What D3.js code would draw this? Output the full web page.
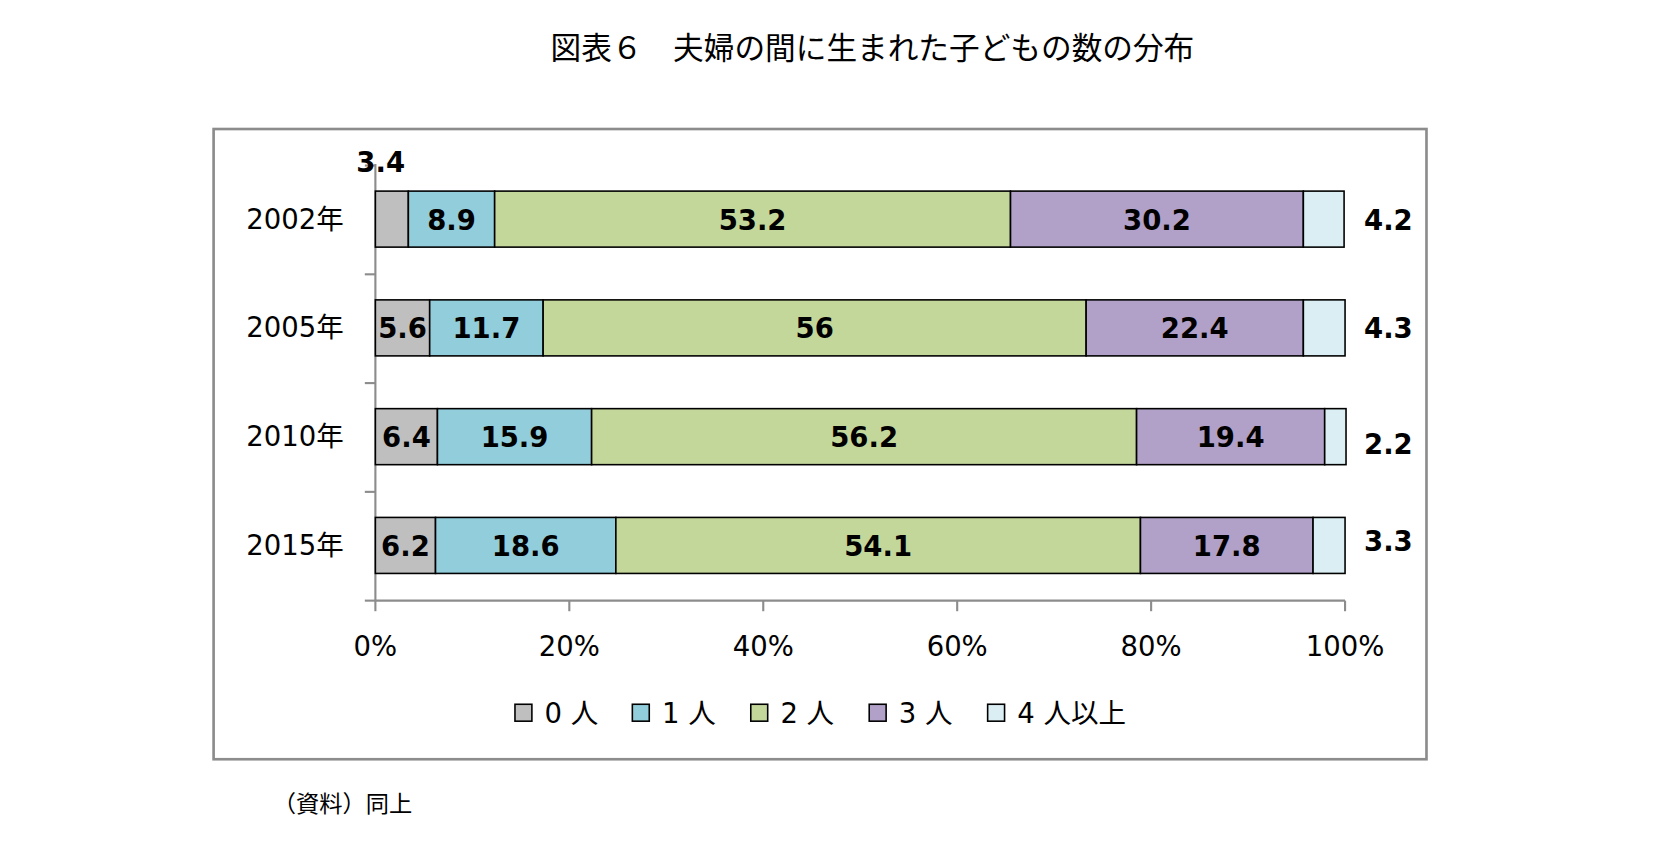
<!DOCTYPE html>
<html><head><meta charset="utf-8">
<script src="https://cdn.jsdelivr.net/npm/d3@7"></script>
<style>body{margin:0;background:#fff;}</style>
</head><body><div id="chart"></div>
<script>
const years = ["2002年", "2005年", "2010年", "2015年"];
const groups = ["0人", "1人", "2人", "3人", "4人以上"];
const legendLabels = ["0 人", "1 人", "2 人", "3 人", "4 人以上"];
const v0 = [3.4, 5.6, 6.4, 6.2];
const v1 = [8.9, 11.7, 15.9, 18.6];
const v2 = [53.2, 56, 56.2, 54.1];
const v3 = [30.2, 22.4, 19.4, 17.8];
const v4 = [4.2, 4.3, 2.2, 3.3];
const ticks = [0, 20, 40, 60, 80, 100];
const colors = ["#bfbfbf", "#92cddc", "#c4d79b", "#b1a0c7", "#daeef3"];

const font = "'DejaVu Sans', 'Noto Sans CJK JP', sans-serif";
const jp = "'Noto Sans CJK JP', sans-serif";
// layout measured on a 1567-wide copy; viewBox scales it to the window
const svg = d3.select("#chart").append("svg").attr("width", 1657).attr("height", 841)
  .attr("viewBox", "0 0 1567 795.3");

svg.append("text").attr("x", 825).attr("y", 56).attr("text-anchor", "middle")
  .attr("font-family", jp).attr("font-size", 29).text("図表６　夫婦の間に生まれた子どもの数の分布");

svg.append("rect").attr("x", 202).attr("y", 122).attr("width", 1147).attr("height", 596)
  .attr("fill", "none").attr("stroke", "#8c8c8c").attr("stroke-width", 2.5);

const x = d3.scaleLinear().domain([0, 100]).range([355, 1272]);
const y = d3.scaleBand().domain(years).range([155, 568]).paddingInner(0.485).paddingOuter(0.25);

const table = years.map((yr, i) => ({yr, vals: [v0[i], v1[i], v2[i], v3[i], v4[i]]}));

// axes
svg.append("line").attr("x1", 355).attr("x2", 355).attr("y1", 155).attr("y2", 568).attr("stroke", "#8c8c8c").attr("stroke-width", 2);
svg.append("line").attr("x1", 355).attr("x2", 1272).attr("y1", 568).attr("y2", 568).attr("stroke", "#8c8c8c").attr("stroke-width", 2);
const step = y.step();
[0, 1, 2, 3, 4].forEach(k => {
  const yy = 568 - k * step;
  svg.append("line").attr("x1", 345).attr("x2", 355).attr("y1", yy).attr("y2", yy).attr("stroke", "#8c8c8c").attr("stroke-width", 2);
});
ticks.forEach(t => {
  svg.append("line").attr("x1", x(t)).attr("x2", x(t)).attr("y1", 568).attr("y2", 578).attr("stroke", "#8c8c8c").attr("stroke-width", 2);
  svg.append("text").attr("x", x(t)).attr("y", 620).attr("text-anchor", "middle")
    .attr("font-family", font).attr("font-size", 26).text(t + "%");
});

table.forEach((row, i) => {
  const cy = y(row.yr) + y.bandwidth() / 2;
  svg.append("text").attr("x", 325).attr("y", cy + 9).attr("text-anchor", "end")
    .attr("font-family", font).attr("font-size", 26).text(row.yr);
  let acc = 0;
  row.vals.forEach((v, j) => {
    const x0 = x(acc);
    acc += v;
    svg.append("rect").attr("x", x0).attr("y", y(row.yr)).attr("width", x(acc) - x0)
      .attr("height", y.bandwidth()).attr("fill", colors[j]).attr("stroke", "#000").attr("stroke-width", 1.5);
    const lab = svg.append("text").attr("font-family", font).attr("font-weight", "bold")
      .attr("font-size", 26).attr("text-anchor", "middle").text(v);
    if (j === 4) {
      lab.attr("x", 1313).attr("y", cy + 10 + (i === 2 ? 6 : i === 3 ? -5 : 0));
    } else if (j === 0 && i === 0) {
      lab.attr("x", 360).attr("y", 163);
    } else {
      lab.attr("x", (x0 + x(acc)) / 2).attr("y", cy + 10);
    }
  });
});

// legend
const lx = [487, 598, 710, 822, 934];
legendLabels.forEach((l, j) => {
  svg.append("rect").attr("x", lx[j]).attr("y", 666).attr("width", 16).attr("height", 16)
    .attr("fill", colors[j]).attr("stroke", "#000").attr("stroke-width", 1.5);
  svg.append("text").attr("x", lx[j] + 28).attr("y", 684).attr("font-family", font)
    .attr("font-size", 26).text(l);
});

svg.append("text").attr("x", 258).attr("y", 768).attr("font-family", jp).attr("font-size", 22).text("（資料）同上");
</script></body></html>
